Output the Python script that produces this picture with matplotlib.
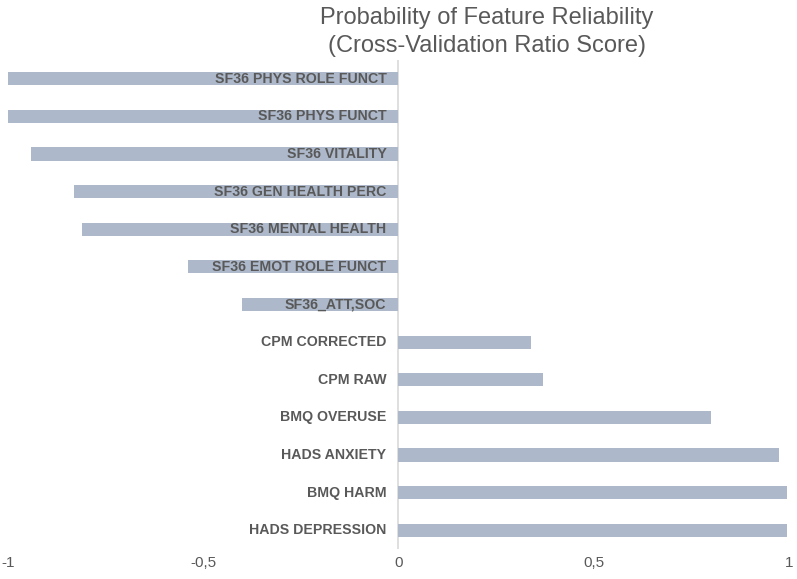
import matplotlib
matplotlib.use("Agg")
import matplotlib.pyplot as plt
from matplotlib import transforms
from matplotlib.ticker import FuncFormatter

categories = ["SF36 PHYS ROLE FUNCT", "SF36 PHYS FUNCT", "SF36 VITALITY",
              "SF36 GEN HEALTH PERC", "SF36 MENTAL HEALTH", "SF36 EMOT ROLE FUNCT",
              "SF36_ATT,SOC", "CPM CORRECTED", "CPM RAW", "BMQ OVERUSE",
              "HADS ANXIETY", "BMQ HARM", "HADS DEPRESSION"]
values = [-1.0, -1.0, -0.94, -0.83, -0.81, -0.54, -0.40,
          0.34, 0.37, 0.80, 0.975, 0.995, 0.995]
xticks = [-1, -0.5, 0, 0.5, 1]
title = "Probability of Feature Reliability\n(Cross-Validation Ratio Score)"

narrow = ["Liberation Sans Narrow", "Liberation Sans", "DejaVu Sans"]
text_col = "#595959"
bar_col = "#adb9ca"

fig = plt.figure(figsize=(7.97, 5.79), dpi=100)
ax = fig.add_axes([8/797, 1-549/579, (789-8)/797, (549-60)/579])

y = list(range(len(categories)))
ax.barh(y, values, height=0.35, color=bar_col, zorder=2)
ax.set_xlim(-1, 1)
ax.set_ylim(len(categories)-0.5, -0.5)

ax.axvline(0, color="#d9d9d9", lw=1.2, zorder=1)
for s in ax.spines.values():
    s.set_visible(False)
ax.set_yticks([])
ax.set_xticks(xticks)
ax.xaxis.set_major_formatter(FuncFormatter(lambda v, p: ("%g" % v).replace(".", ",")))
ax.tick_params(axis="x", length=0, pad=5, labelsize=11, labelcolor=text_col)
for lab in ax.get_xticklabels():
    lab.set_family(narrow)

off = transforms.offset_copy(ax.transData, fig=fig, x=-12, y=0, units="dots")
for yi, c in zip(y, categories):
    ax.text(0, yi, c, transform=off, ha="right", va="center", fontsize=10.2,
            fontweight="bold", color=text_col, family=narrow, zorder=3)

fig.text(487/797, 1-32/579, title, ha="center", va="center", fontsize=17,
         color=text_col, family=narrow, linespacing=1.4)

fig.savefig("out.png", dpi=100)
